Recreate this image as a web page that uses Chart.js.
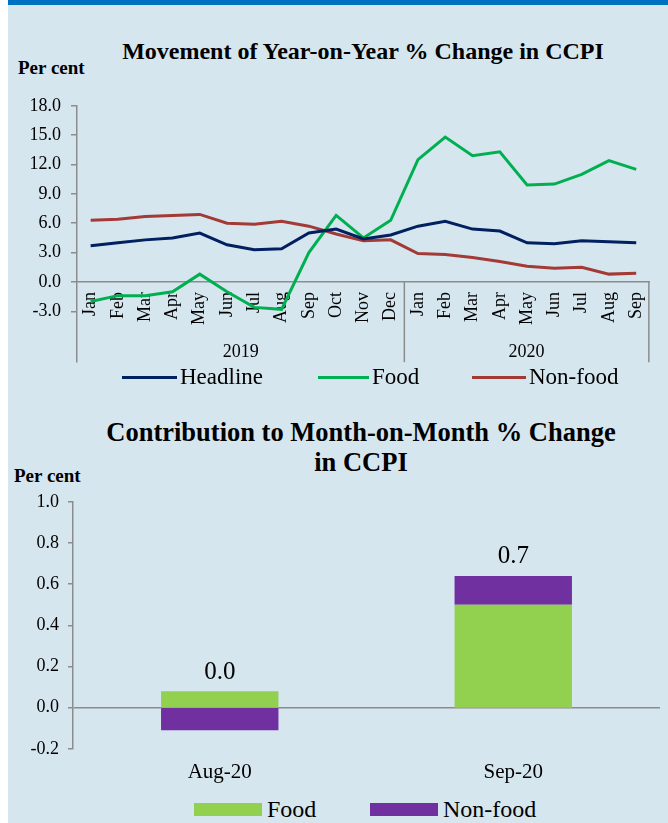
<!DOCTYPE html>
<html>
<head>
<meta charset="utf-8">
<script src="https://cdn.jsdelivr.net/npm/chart.js@4.4.1/dist/chart.umd.min.js"></script>
<style>
html,body{margin:0;padding:0;background:#fff;}
body{width:668px;height:823px;position:relative;overflow:hidden;font-family:"Liberation Serif","Times New Roman",serif;color:#000;}
#panel{position:absolute;left:8px;top:0;width:660px;height:823px;background:#D6E6EF;}
#topbar{position:absolute;left:8px;top:0;width:660px;height:5px;background:#0070C0;}
.t{position:absolute;font-weight:bold;white-space:nowrap;transform:translate(-50%,-50%);}
.pc{position:absolute;font-weight:bold;white-space:nowrap;font-size:19px;transform:translateY(-50%);}
#w1{position:absolute;left:8px;top:85px;width:660px;height:298px;}
#w2{position:absolute;left:8px;top:482px;width:660px;height:306px;}
.lg{position:absolute;white-space:nowrap;transform:translateY(-50%);font-size:23px;line-height:26px;}
.sw{position:absolute;}
</style>
</head>
<body>
<div id="panel"></div>
<div id="topbar"></div>
<div class="t" style="left:363px;top:51px;font-size:24px;">Movement of Year-on-Year % Change in CCPI</div>
<div class="pc" style="left:18px;top:68px;">Per cent</div>
<div id="w1"><canvas id="c1"></canvas></div>
<div id="legend1"></div>
<div class="t" style="left:361px;top:447px;font-size:26.5px;line-height:30px;text-align:center;">Contribution to Month-on-Month % Change<br>in CCPI</div>
<div class="pc" style="left:14px;top:476px;">Per cent</div>
<div id="w2"><canvas id="c2"></canvas></div>
<div id="legend2"></div>
<script>
// ---------- data ----------
const months = ['Jan','Feb','Mar','Apr','May','Jun','Jul','Aug','Sep','Oct','Nov','Dec',
                'Jan','Feb','Mar','Apr','May','Jun','Jul','Aug','Sep'];
const years = ['2019','2020'];
const monthsInYear = [12, 9];
const headline = [3.7,4.0,4.3,4.5,5.0,3.8,3.3,3.4,5.0,5.4,4.4,4.8,5.7,6.2,5.4,5.2,4.0,3.9,4.2,4.1,4.0];
const food     = [-2.0,-1.4,-1.4,-1.0,0.8,-1.0,-2.6,-2.8,3.0,6.8,4.5,6.3,12.5,14.8,12.9,13.3,9.9,10.0,11.0,12.4,11.5];
const nonFood  = [6.3,6.4,6.7,6.8,6.9,6.0,5.9,6.2,5.7,4.9,4.2,4.3,2.9,2.8,2.5,2.1,1.6,1.4,1.5,0.8,0.9];
const yoyTickMin = -3, yoyTickMax = 18, yoyTickStep = 3;

const barCategories = ['Aug-20','Sep-20'];
const foodContribution    = [0.08, 0.50];
const nonFoodContribution = [-0.11, 0.14];
const totalLabels = ['0.0','0.7'];
const momTickMin = -0.2, momTickMax = 1.0, momTickStep = 0.2;

const FONT = "'Liberation Serif','Times New Roman',serif";
const AXIS = '#8c8c8c';
const fmt1 = v => (Math.abs(v) < 1e-9 ? 0 : v).toFixed(1);

// ---------- chart 1 ----------
const yearPlugin = {
  id: 'yearGroups',
  afterDraw(chart) {
    const {ctx, chartArea, scales} = chart;
    const x = scales.x, y = scales.y;
    const y0 = y.getPixelForValue(0);
    ctx.save();
    ctx.strokeStyle = AXIS;
    ctx.lineWidth = 1.5;
    ctx.fillStyle = '#000';
    ctx.font = '18px ' + FONT;
    ctx.textAlign = 'center';
    ctx.textBaseline = 'middle';
    let start = 0;
    let left = chartArea.left;
    monthsInYear.forEach((n, gi) => {
      const end = start + n - 1;
      const right = end < months.length - 1
        ? (x.getPixelForValue(end) + x.getPixelForValue(end + 1)) / 2
        : chartArea.right - 1;
      ctx.beginPath();
      ctx.moveTo(right, y0);
      ctx.lineTo(right, chartArea.bottom);
      ctx.stroke();
      ctx.fillText(years[gi], (left + right) / 2, chartArea.bottom - 10);
      left = right;
      start += n;
    });
    ctx.restore();
  }
};

const ds1 = [
  {label: 'Headline', data: headline, borderColor: '#002060'},
  {label: 'Food', data: food, borderColor: '#00B050'},
  {label: 'Non-food', data: nonFood, borderColor: '#A33A36'}
];

new Chart(document.getElementById('c1'), {
  type: 'line',
  data: {
    labels: months,
    datasets: ds1.map(d => Object.assign({}, d, {
      backgroundColor: d.borderColor, borderWidth: 3, pointRadius: 0, tension: 0, fill: false
    }))
  },
  options: {
    responsive: true,
    maintainAspectRatio: false,
    animation: false,
    layout: {padding: {top: 10, right: 8, bottom: 2, left: 0}},
    plugins: {legend: {display: false}, tooltip: {enabled: false}, title: {display: false}},
    scales: {
      x: {
        type: 'category',
        position: {y: 0},
        offset: true,
        grid: {display: true, drawOnChartArea: false, drawTicks: false},
        border: {display: true, color: AXIS, width: 1.5},
        ticks: {autoSkip: false, maxRotation: 90, minRotation: 90, padding: 10,
                color: '#000', font: {family: FONT, size: 18}},
        afterFit: s => { s.height = 0; }
      },
      y: {
        min: -8.2,
        max: yoyTickMax,
        ticks: {stepSize: yoyTickStep, padding: 10, color: '#000',
                font: {family: FONT, size: 18},
                callback: v => fmt1(v)},
        afterBuildTicks: s => {
          s.ticks = s.ticks.filter(t => t.value >= yoyTickMin - 1e-9 && t.value <= yoyTickMax + 1e-9);
        },
        grid: {drawOnChartArea: false, drawTicks: true, tickLength: 6, color: AXIS, lineWidth: 1.5},
        border: {display: true, color: AXIS, width: 1.5},
        afterFit: s => { s.width = 69; }
      }
    }
  },
  plugins: [yearPlugin]
});

// ---------- chart 2 ----------
const totalPlugin = {
  id: 'totals',
  afterDatasetsDraw(chart) {
    const {ctx} = chart;
    ctx.save();
    ctx.fillStyle = '#000';
    ctx.font = '25px ' + FONT;
    ctx.textAlign = 'center';
    ctx.textBaseline = 'middle';
    barCategories.forEach((c, i) => {
      let top = Infinity, xc = 0;
      chart.data.datasets.forEach((d, di) => {
        const el = chart.getDatasetMeta(di).data[i];
        top = Math.min(top, el.y, el.base);
        xc = el.x;
      });
      ctx.fillText(totalLabels[i], xc, top - 19);
    });
    ctx.restore();
  }
};

const ds2 = [
  {label: 'Food', data: foodContribution, backgroundColor: '#92D050'},
  {label: 'Non-food', data: nonFoodContribution, backgroundColor: '#7030A0'}
];

new Chart(document.getElementById('c2'), {
  type: 'bar',
  data: {
    labels: barCategories,
    datasets: ds2.map(d => Object.assign({}, d, {
      borderWidth: 0, barPercentage: 0.4, categoryPercentage: 1.0
    }))
  },
  options: {
    responsive: true,
    maintainAspectRatio: false,
    animation: false,
    layout: {padding: {top: 10, right: 8, bottom: 0, left: 0}},
    plugins: {legend: {display: false}, tooltip: {enabled: false}},
    scales: {
      x: {
        stacked: true,
        grid: {display: false},
        border: {display: false},
        ticks: {padding: 3, color: '#000', font: {family: FONT, size: 21}}
      },
      y: {
        stacked: true,
        z: 1,
        min: momTickMin,
        max: momTickMax,
        ticks: {stepSize: momTickStep, padding: 9, color: '#000',
                font: {family: FONT, size: 18},
                callback: v => fmt1(v)},
        grid: {drawOnChartArea: true, drawTicks: true, tickLength: 5, lineWidth: 1.5,
               tickColor: AXIS,
               color: c => (c.tick && Math.abs(c.tick.value) < 1e-9) ? AXIS : 'rgba(0,0,0,0)'},
        border: {display: true, color: AXIS, width: 1.5},
        afterFit: s => { s.width = 65; }
      }
    }
  },
  plugins: [totalPlugin]
});

// ---------- HTML legends ----------
function lineLegend(el, items, yc, pos) {
  items.forEach((d, i) => {
    const p = pos[i];
    const sw = document.createElement('div');
    sw.className = 'sw';
    sw.style.cssText = `left:${p[0]}px;top:${yc - 1.5}px;width:${p[1]}px;height:3px;background:${d.borderColor};`;
    el.appendChild(sw);
    const t = document.createElement('div');
    t.className = 'lg';
    t.style.cssText = `left:${p[0] + p[1] + 3}px;top:${yc}px;`;
    t.textContent = d.label;
    el.appendChild(t);
  });
}
function boxLegend(el, items, yc, pos) {
  items.forEach((d, i) => {
    const p = pos[i];
    const sw = document.createElement('div');
    sw.className = 'sw';
    sw.style.cssText = `left:${p[0]}px;top:${yc - 6.5}px;width:${p[1]}px;height:13px;background:${d.backgroundColor};`;
    el.appendChild(sw);
    const t = document.createElement('div');
    t.className = 'lg';
    t.style.cssText = `left:${p[0] + p[1] + 5}px;top:${yc}px;font-size:24px;`;
    t.textContent = d.label;
    el.appendChild(t);
  });
}
lineLegend(document.getElementById('legend1'), ds1, 377, [[122, 55], [318, 51], [472, 54]]);
boxLegend(document.getElementById('legend2'), ds2, 809, [[194, 68], [370, 68]]);
</script>
</body>
</html>
